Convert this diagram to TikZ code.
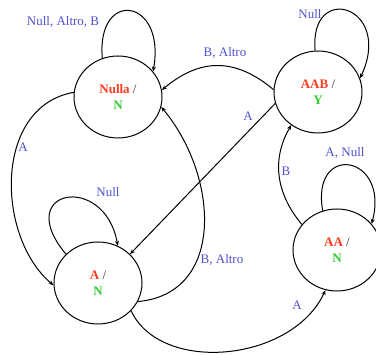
\documentclass[tikz,border=0pt]{standalone}
\usepackage{fontspec}
\setmainfont{Liberation Serif}
\usetikzlibrary{shapes.geometric,arrows.meta}

\definecolor{statered}{RGB}{255,59,31}
\definecolor{outgreen}{RGB}{51,204,51}
\definecolor{edgeblue}{RGB}{80,80,208}

\tikzset{
  state/.style={draw, line width=1pt, ellipse, minimum width=88pt, minimum height=82pt,
    inner sep=0pt, align=center, font=\fontsize{13}{16}\selectfont},
  trans/.style={line width=1pt, -{Stealth[length=5pt,width=4pt]}},
  lbl/.style={text=edgeblue, font=\fontsize{13}{15}\selectfont},
}
\newcommand{\st}[2]{\textbf{\textcolor{statered}{#1}} \textcolor{black!80}{/}\\\textbf{\textcolor{outgreen}{#2}}}

\begin{document}
\begin{tikzpicture}[x=1pt, y=1pt]
  \useasboundingbox (0, 0) rectangle (376, 355);

  % States
  \node[state] (nulla) at (118, 258) {\st{Nulla}{N}};
  \node[state] (aab) at (318, 263) {\st{AAB}{Y}};
  \node[state] (a) at (98, 72) {\st{A}{N}};
  \node[state] (aa) at (337, 105) {\st{AA}{N}};

  % Self loops
  \draw[trans] (nulla.112) .. controls +(95:70) and +(80:75) .. (nulla.36);
  \draw[trans] (a.138) .. controls +(130:85) and +(100:75) .. (a.62);
  \draw[trans] (aab.94) .. controls +(95:70) and +(65:80) .. (aab.18);
  \draw[trans] (aa.110) .. controls +(100:70) and +(75:72) .. (aa.37);

  % Transitions
  \draw[trans] (nulla.174) .. controls +(190:82) and +(140:75) .. (a.183);
  \draw[trans] (a.335) .. controls +(5:88) and +(-50:90) .. (nulla.347);
  \draw[trans] (aab.177) .. controls +(140:50) and +(40:50) .. (nulla.9);
  \draw[trans] (aab.195) -- (a.42);
  \draw[trans] (a.320) .. controls +(-65:70) and +(245:80) .. (aa.254);
  \draw[trans] (aa.144) .. controls +(130:40) and +(240:40) .. (aab.231);

  % Labels
  \node[lbl] (lnulla) at (63, 333) {Null, Altro, B};
  \node[lbl] (laab) at (310, 341) {Null};
  \node[lbl] (la) at (108, 163) {Null};
  \node[lbl] (laa) at (345, 202) {A, Null};
  \node[lbl] (lna) at (23, 208) {A};
  \node[lbl] (lan) at (222, 95) {B, Altro};
  \node[lbl] (laabn) at (225, 302) {B, Altro};
  \node[lbl] (laaba) at (248, 239) {A};
  \node[lbl] (laaa) at (297, 50) {A};
  \node[lbl] (laaaab) at (286, 184) {B};
\end{tikzpicture}
\end{document}
